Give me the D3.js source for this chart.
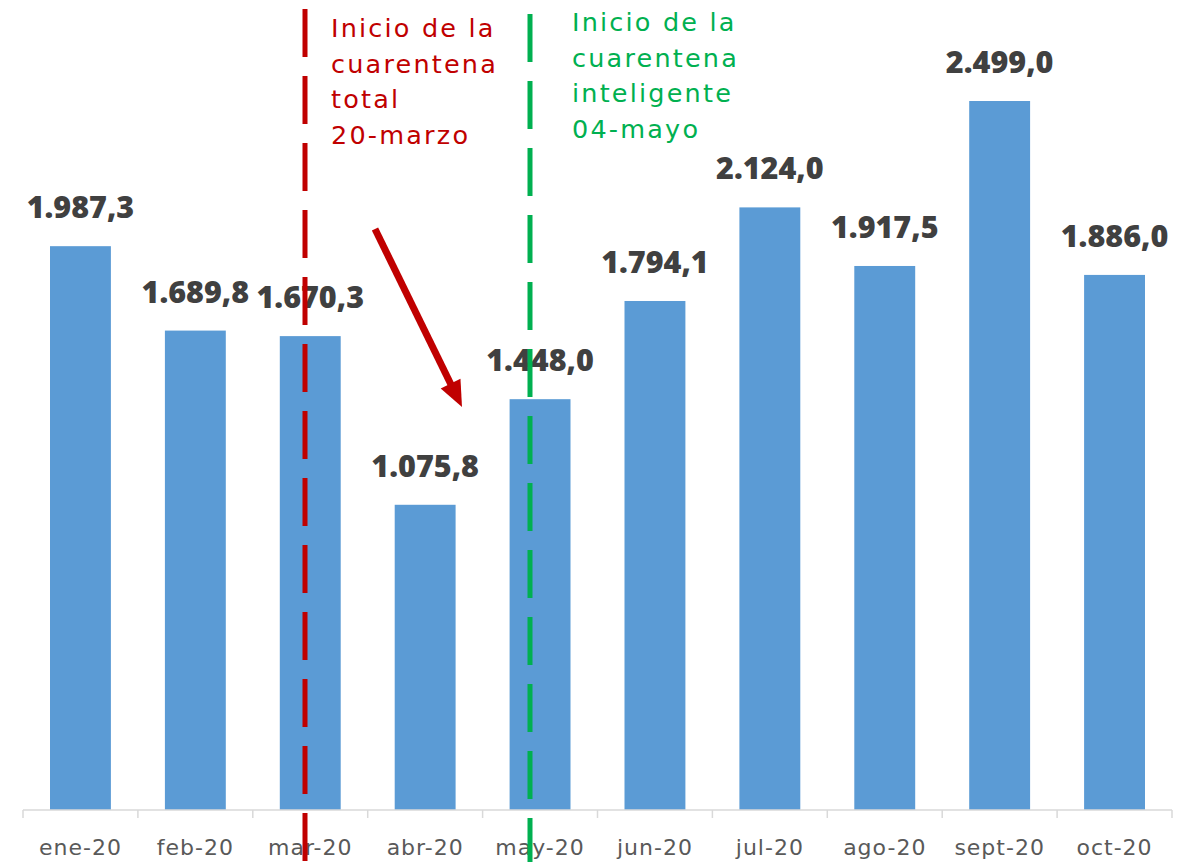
<!DOCTYPE html>
<html><head><meta charset="utf-8">
<script src="https://cdn.jsdelivr.net/npm/d3@7"></script>
<style>body{margin:0;background:#fff}svg{display:block}</style>
</head><body>
<script>
const categories = ["ene-20","feb-20","mar-20","abr-20","may-20","jun-20","jul-20","ago-20","sept-20","oct-20"];
const values = [1987.3,1689.8,1670.3,1075.8,1448.0,1794.1,2124.0,1917.5,2499.0,1886.0];
const redNote = ["Inicio de la","cuarentena","total","20-marzo"];
const greenNote = ["Inicio de la","cuarentena","inteligente","04-mayo"];

const W = 1183, H = 862;
const svg = d3.select("body").append("svg").attr("width", W).attr("height", H);
const x = d3.scaleBand().domain(categories).range([23, 1172]).paddingInner(0.47).paddingOuter(0.235);
const y = d3.scaleLinear().domain([0, 2499]).range([810, 101]);
const fmt = v => { const s = v.toFixed(1).replace(".", ","); const [i, d] = s.split(","); return i.replace(/\B(?=(\d{3})+(?!\d))/g, ".") + "," + d; };

svg.selectAll("rect.bar").data(values).join("rect").attr("class","bar")
  .attr("x", (d,i) => x(categories[i])).attr("width", x.bandwidth())
  .attr("y", d => y(d)).attr("height", d => y(0) - y(d)).attr("fill", "#5B9BD5");

// axis
const xt = d3.scaleBand().domain(categories).range([23, 1172]);
const ax = svg.append("g").attr("transform", "translate(0,810)");
ax.append("line").attr("x1", 23).attr("x2", 1172).attr("stroke", "#D9D9D9").attr("stroke-width", 1.5);
const tickPos = categories.map(c => xt(c)).concat([1172]);
ax.selectAll("line.t").data(tickPos).join("line").attr("class","t")
  .attr("x1", d => d).attr("x2", d => d).attr("y1", 0).attr("y2", 8).attr("stroke", "#D9D9D9").attr("stroke-width", 1.5);
ax.selectAll("text").data(categories).join("text")
  .attr("x", d => xt(d) + xt.bandwidth()/2).attr("y", 45).attr("text-anchor","middle")
  .attr("font-family","'DejaVu Sans', sans-serif").attr("font-size", 22).attr("letter-spacing", 1)
  .attr("fill","#595959").text(d => d);

// value labels
svg.selectAll("text.val").data(values).join("text").attr("class","val")
  .attr("x", (d,i) => x(categories[i]) + x.bandwidth()/2).attr("y", d => y(d) - 28)
  .attr("text-anchor","middle").attr("font-family","'Open Sans', sans-serif").attr("font-weight", 800)
  .attr("font-size", 30.5).attr("fill","#404040").text(d => fmt(d));

// dashed lines
svg.append("line").attr("x1",305).attr("x2",305).attr("y1",9).attr("y2",862)
  .attr("stroke","#C00000").attr("stroke-width",5).attr("stroke-dasharray","48 19");
svg.append("line").attr("x1",530).attr("x2",530).attr("y1",14).attr("y2",862)
  .attr("stroke","#00B050").attr("stroke-width",5).attr("stroke-dasharray","48 19");

// notes
const rt = svg.append("text").attr("font-family","'DejaVu Sans', sans-serif").attr("font-size",25.5)
  .attr("letter-spacing",2.2).attr("fill","#C00000");
redNote.forEach((t,i) => rt.append("tspan").attr("x",331).attr("y",37 + i*35.5).text(t));
const gt = svg.append("text").attr("font-family","'DejaVu Sans', sans-serif").attr("font-size",25.5)
  .attr("letter-spacing",2.2).attr("fill","#00B050");
greenNote.forEach((t,i) => gt.append("tspan").attr("x",572).attr("y",31 + i*35.5).text(t));

// arrow
const x0 = 375, y0 = 229, x1 = 462, y1 = 407;
const ang = Math.atan2(y1 - y0, x1 - x0);
const hl = 26, hw = 11;
const bx = x1 - hl*Math.cos(ang), by = y1 - hl*Math.sin(ang);
svg.append("line").attr("x1",x0).attr("y1",y0).attr("x2",bx + 2*Math.cos(ang)).attr("y2",by + 2*Math.sin(ang))
  .attr("stroke","#C00000").attr("stroke-width",7);
svg.append("path").attr("d", `M${x1},${y1}L${bx + hw*Math.sin(ang)},${by - hw*Math.cos(ang)}L${bx - hw*Math.sin(ang)},${by + hw*Math.cos(ang)}Z`)
  .attr("fill","#C00000");
</script>
</body></html>
